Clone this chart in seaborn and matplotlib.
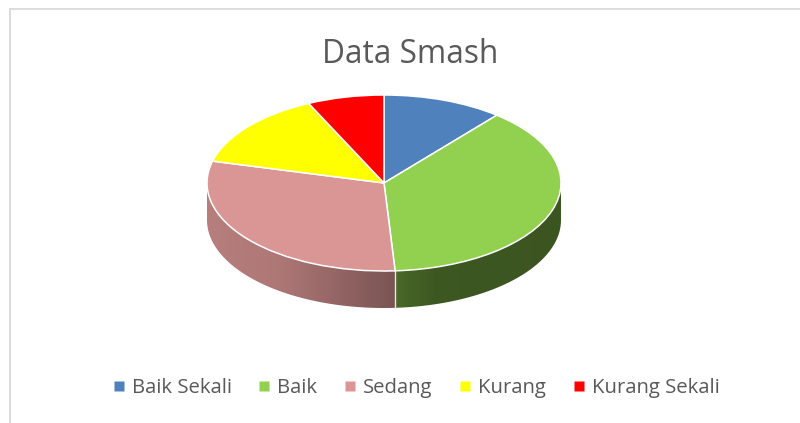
import numpy as np
import matplotlib
matplotlib.use("Agg")
import matplotlib.pyplot as plt
from matplotlib.lines import Line2D
from matplotlib.patches import Rectangle, Polygon
import seaborn as sns

categories = ["Baik Sekali", "Baik", "Sedang", "Kurang", "Kurang Sekali"]
values = [11, 38, 30, 14, 7]
colors = ["#4F81BD", "#92D050", "#D99694", "#FFFF00", "#FF0000"]
title = "Data Smash"

W, H = 800, 423
CX, CY, RX, RY, DEPTH = 384, 183, 177, 88, 37

sns.set_theme(style="white")
plt.rcParams["font.family"] = ["Open Sans", "DejaVu Sans"]

fig = plt.figure(figsize=(W / 100, H / 100), dpi=100, facecolor="white")

# border (top and left edges only are visible in the crop)
fig.add_artist(Rectangle((9 / W, 0), 2 / W, 1 - 8 / H, transform=fig.transFigure,
                         facecolor="#DCDCDC", edgecolor="none"))
fig.add_artist(Rectangle((9 / W, 1 - 10 / H), 1 - 9 / W, 2 / H, transform=fig.transFigure,
                         facecolor="#DCDCDC", edgecolor="none"))

# axes taller than the ellipse so the rim stays inside it
ax = fig.add_axes([(CX - RX - 3) / W, 1 - (CY + RY + DEPTH + 3) / H,
                   (2 * RX + 6) / W, (2 * RY + DEPTH + 6) / H])
wedges, _ = ax.pie(values, colors=colors, startangle=90, counterclock=False,
                   wedgeprops=dict(edgecolor="white", linewidth=1.1, zorder=3))

# extruded rim, front half only, shaded along x
depth = DEPTH / RY
total = sum(values)
start = 90.0
shade_stops = {
    1: ([0.05, 0.12, 0.3, 1.0], [0.52, 0.48, 0.42, 0.41]),
    2: ([-1.0, -0.6, 0.06], [0.84, 0.80, 0.56]),
}
for i, (v, c) in enumerate(zip(values, colors)):
    end = start - v / total * 360
    a0, a1 = max(end, -180.0), min(start, 0.0)
    if i in shade_stops and a1 > a0:
        th = np.radians(np.linspace(a0, a1, 200))
        xs, ys = np.cos(th), np.sin(th)
        rgb = np.array(matplotlib.colors.to_rgb(c))
        x_lo, x_hi = xs.min(), xs.max()
        grid = np.linspace(x_lo, x_hi, 300)
        stops_x, stops_f = shade_stops[i]
        strip = np.interp(grid, stops_x, stops_f)[None, :, None] * rgb
        poly = Polygon(np.column_stack([np.r_[xs, xs[::-1]],
                                        np.r_[ys, ys[::-1] - depth]]),
                       transform=ax.transData, facecolor="none", edgecolor="none")
        ax.add_patch(poly)
        im = ax.imshow(strip, extent=(x_lo, x_hi, -1 - depth, 0.2), aspect="auto",
                       interpolation="bilinear", zorder=1)
        im.set_clip_path(poly)
    if -180 < end < 0:
        xe, ye = np.cos(np.radians(end)), np.sin(np.radians(end))
        ax.plot([xe, xe], [ye, ye - depth], color="#E8E8E8", lw=1.0, zorder=2)
    start = end

ax.set_aspect("auto")
ax.set_xlim(-1 - 3 / RX, 1 + 3 / RX)
ax.set_ylim(-1 - depth - 3 / RY, 1 + 3 / RY)
ax.axis("off")

fig.text(410.5 / W, 1 - 54.5 / H, title, ha="center", va="center",
         fontsize=22.8, color="#595959")

handles = [Line2D([], [], linestyle="none", marker="s", markersize=7.5, color=c,
                  markeredgecolor="none") for c in colors]
leg = fig.legend(handles, categories, ncol=5, loc="center", frameon=False,
                 bbox_to_anchor=(414 / W, 1 - 388 / H), fontsize=14.6,
                 labelcolor="#595959", columnspacing=1.1, handletextpad=0.15,
                 handlelength=1.0)

fig.savefig("out.png", dpi=100, facecolor="white")
